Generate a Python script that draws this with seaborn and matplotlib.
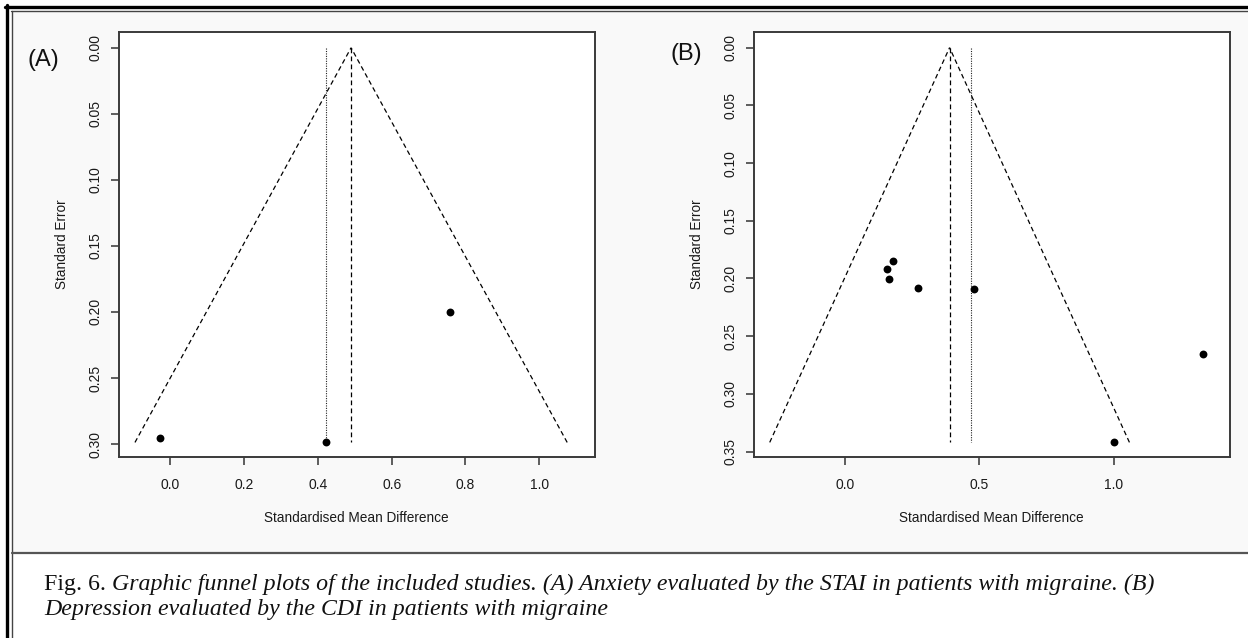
"""Funnel plots (A: STAI anxiety, B: CDI depression) in migraine studies."""

import matplotlib

matplotlib.use("Agg")
import matplotlib.pyplot as plt
from matplotlib.lines import Line2D
from matplotlib.patches import Rectangle
import numpy as np
import pandas as pd
import seaborn as sns

# panel A - anxiety (STAI)
smd_a = [0.757, -0.028, 0.422]
se_a = [0.200, 0.2955, 0.2988]
fixed_a = 0.490
random_a = 0.422
se_max_a = 0.2988
xticks_a = [0.0, 0.2, 0.4, 0.6, 0.8, 1.0]
yticks_a = [0.00, 0.05, 0.10, 0.15, 0.20, 0.25, 0.30]

# panel B - depression (CDI)
smd_b = [0.177, 0.154, 0.163, 0.272, 0.481, 1.333, 1.001]
se_b = [0.1846, 0.192, 0.2002, 0.2082, 0.2094, 0.2657, 0.342]
fixed_b = 0.389
random_b = 0.469
se_max_b = 0.342
xticks_b = [0.0, 0.5, 1.0]
yticks_b = [0.00, 0.05, 0.10, 0.15, 0.20, 0.25, 0.30, 0.35]

CAPTION_ROMAN = "Fig. 6. "
CAPTION_ITALIC_1 = ("Graphic funnel plots of the included studies. (A) Anxiety "
                    "evaluated by the STAI in patients with migraine. (B)")
CAPTION_ITALIC_2 = "Depression evaluated by the CDI in patients with migraine"

W, H = 1248, 638


def px_x(x):
    return x / W


def px_y(y):
    return 1 - y / H


def funnel(ax, smd, se, fixed, random, se_max, xticks, yticks, xlim, ylim):
    df = pd.DataFrame({"smd": smd, "se": se})
    se_line = np.array([se_max, 0.0])
    dash = (0, (3.8, 2.6))
    ax.plot(fixed - 1.96 * se_line, se_line, color="black", lw=0.9, linestyle=dash)
    ax.plot(fixed + 1.96 * se_line, se_line, color="black", lw=0.9, linestyle=dash)
    ax.plot([fixed, fixed], [0, se_max], color="black", lw=0.9, linestyle=dash)
    ax.plot([random, random], [0, se_max], color="#222222", lw=0.8,
            linestyle=(0, (1, 1.2)))
    sns.scatterplot(data=df, x="smd", y="se", ax=ax, color="black",
                    edgecolor="black", s=32, linewidth=0, zorder=3, legend=False)

    ax.set_xlim(*xlim)
    ax.set_ylim(*ylim)
    ax.set_xticks(xticks)
    ax.set_xticklabels([f"{t:.1f}" for t in xticks])
    ax.set_yticks(yticks)
    ax.set_yticklabels([f"{t:.2f}" for t in yticks], rotation=90, va="center")
    ax.set_xlabel("Standardised Mean Difference", fontsize=9.8, labelpad=14,
                  color="#1a1a1a")
    ax.set_ylabel("Standard Error", fontsize=9.8, labelpad=14, color="#1a1a1a")
    ax.tick_params(axis="both", direction="out", length=5.5, width=1.1,
                   color="#333333", labelsize=10, labelcolor="#1a1a1a",
                   bottom=True, left=True)
    ax.tick_params(axis="x", pad=9.5)
    ax.tick_params(axis="y", pad=6)
    for spine in ax.spines.values():
        spine.set_visible(True)
        spine.set_color("#3a3a3a")
        spine.set_linewidth(1.4)
    ax.set_facecolor("white")


sns.set_style("ticks")
plt.rcParams["font.family"] = ["Liberation Sans", "DejaVu Sans"]

fig = plt.figure(figsize=(W / 100, H / 100), dpi=100, facecolor="white")

# light panel background, frame and separator
fig.add_artist(Rectangle((px_x(12), px_y(552)), 1 - px_x(12), px_y(11) - px_y(552),
                         transform=fig.transFigure, facecolor="#f9f9f9",
                         edgecolor="none", zorder=-5))
fig.add_artist(Line2D([px_x(5), 1], [px_y(7), px_y(7)], color="black", lw=2.4))
fig.add_artist(Line2D([px_x(11), 1], [px_y(11), px_y(11)], color="#444444", lw=1.0))
fig.add_artist(Line2D([px_x(7), px_x(7)], [0, px_y(5)], color="black", lw=2.4))
fig.add_artist(Line2D([px_x(12), px_x(12)], [0, px_y(11)], color="#444444", lw=1.0))
fig.add_artist(Line2D([px_x(12), 1], [px_y(552.5), px_y(552.5)], color="#555555",
                      lw=1.6))

ax_a = fig.add_axes([px_x(118.6), px_y(456.7), (595 - 118.6) / W, (456.7 - 32.3) / H])
ax_b = fig.add_axes([px_x(753.7), px_y(456.7), (1229.7 - 753.7) / W, (456.7 - 32.3) / H])

funnel(ax_a, smd_a, se_a, fixed_a, random_a, se_max_a, xticks_a, yticks_a,
       (-0.140, 1.151), (0.3096, -0.0117))
funnel(ax_b, smd_b, se_b, fixed_b, random_b, se_max_b, xticks_b, yticks_b,
       (-0.341, 1.433), (0.3544, -0.0133))

fig.text(px_x(43), px_y(60), "(A)", fontsize=17, ha="center", va="center",
         color="#111111")
fig.text(px_x(686), px_y(54), "(B)", fontsize=17, ha="center", va="center",
         color="#111111")

# caption: roman "Fig. 6." then italic text, size fitted to the line width
serif = ["Liberation Serif", "DejaVu Serif"]
size = 17.0
x0 = px_x(44)
renderer = fig.canvas.get_renderer()
t_roman = fig.text(x0, px_y(590), CAPTION_ROMAN, fontsize=size, family=serif,
                   va="baseline", ha="left", color="#111111")
t_it1 = fig.text(0, px_y(590), CAPTION_ITALIC_1, fontsize=size, family=serif,
                 style="italic", va="baseline", ha="left", color="#111111")
w_total = (t_roman.get_window_extent(renderer).width
           + t_it1.get_window_extent(renderer).width)
size = size * (1157 - 44) / w_total
t_roman.set_fontsize(size)
t_it1.set_fontsize(size)
w_roman = t_roman.get_window_extent(renderer).width
t_it1.set_x(x0 + w_roman / W)
fig.text(x0, px_y(615), CAPTION_ITALIC_2, fontsize=size, family=serif,
         style="italic", va="baseline", ha="left", color="#111111")

fig.savefig("out.png", dpi=100, facecolor="white")
